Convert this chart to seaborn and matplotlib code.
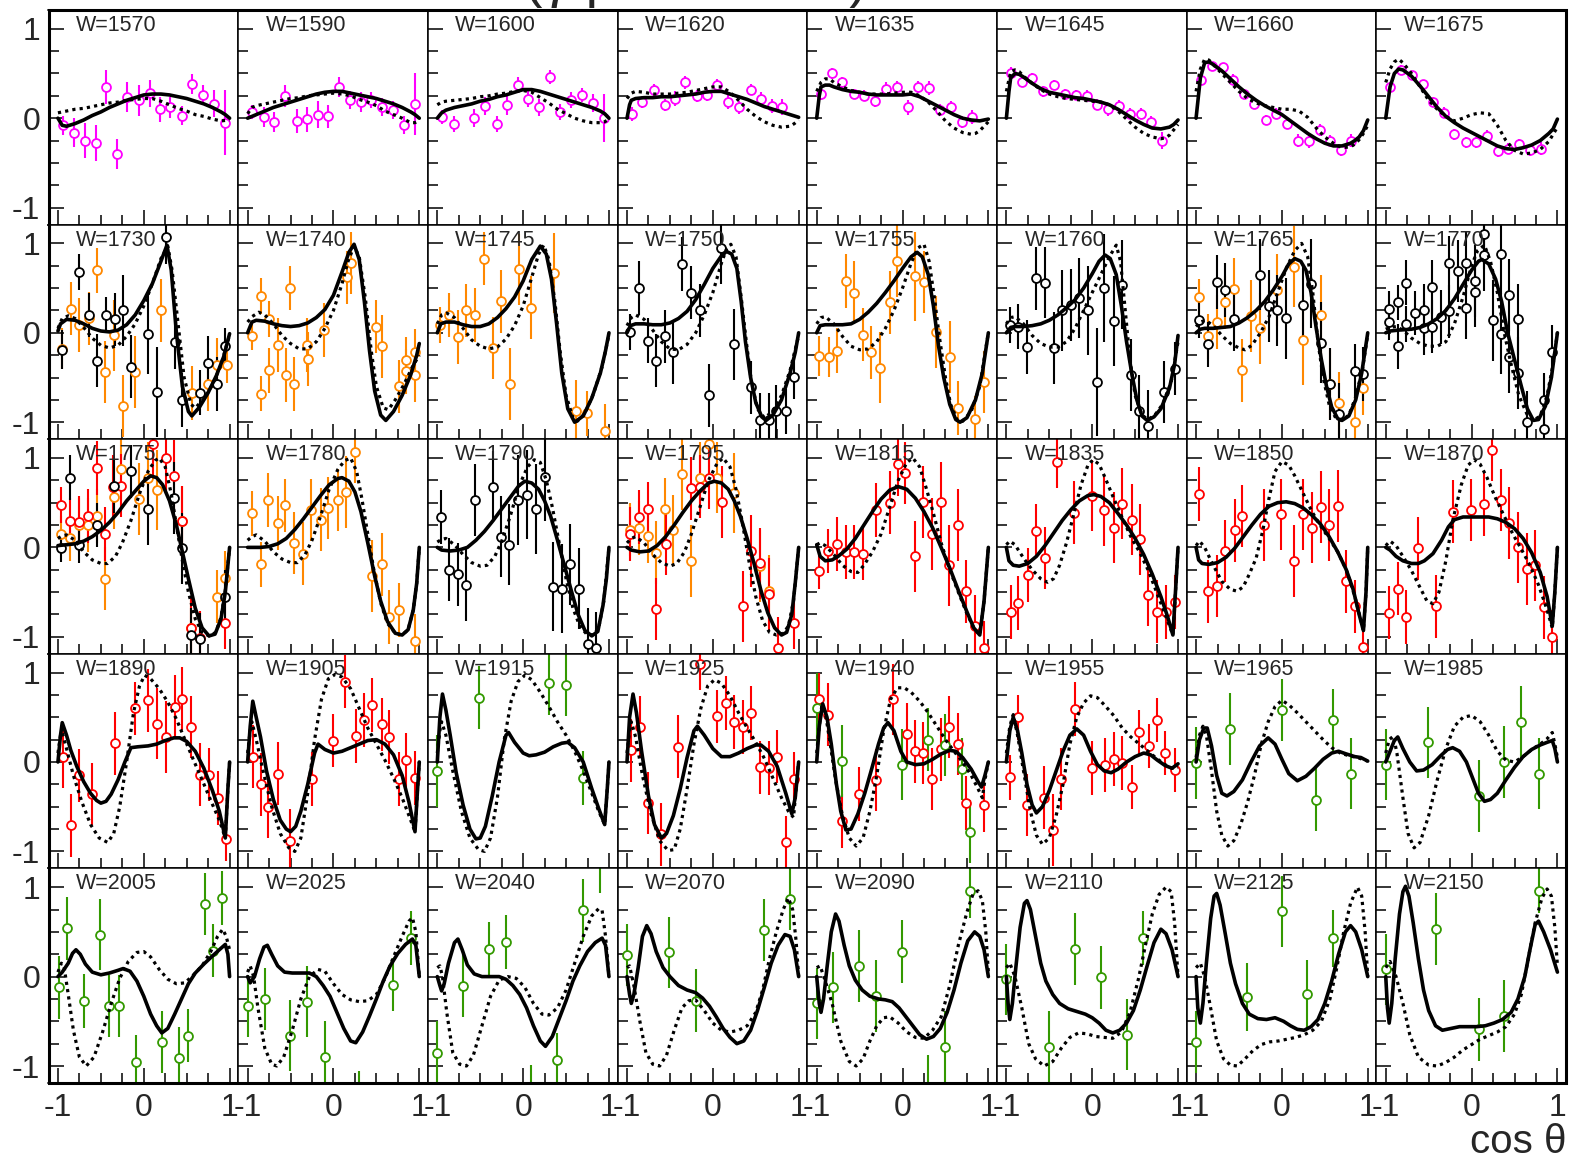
import pandas as pd
import seaborn as sns
import matplotlib.pyplot as plt
from matplotlib.patches import Rectangle
from matplotlib.ticker import FixedLocator, MultipleLocator

# --- panel labels (W), row by row ---
W_LABELS = [1570, 1590, 1600, 1620, 1635, 1645, 1660, 1675,
            1730, 1740, 1745, 1750, 1755, 1760, 1765, 1770,
            1775, 1780, 1790, 1795, 1815, 1835, 1850, 1870,
            1890, 1905, 1915, 1925, 1940, 1955, 1965, 1985,
            2005, 2025, 2040, 2070, 2090, 2110, 2125, 2150]

# data-set colours (keys used in POINTS)
COLORS = {"m": "#ff00ff", "o": "#ff8800", "k": "#000000", "r": "#ff0000", "g": "#339900"}
DRAW_ORDER = ["o", "r", "k", "g", "m"]

# --- model curves, (cos theta, value) ---
SOLID = [
    [(-1, 0.0), (-0.95, -0.08), (-0.9, -0.09), (-0.8, -0.06), (-0.7, -0.02), (-0.6, 0.03), (-0.5, 0.07), (-0.4, 0.12), (-0.3, 0.16), (-0.2, 0.2), (-0.1, 0.23), (0, 0.26), (0.1, 0.27), (0.2, 0.27), (0.3, 0.26), (0.4, 0.24), (0.5, 0.22), (0.6, 0.19), (0.7, 0.16), (0.8, 0.12), (0.9, 0.07), (0.95, 0.04), (1, 0.0)],
    [(-1, 0.0), (-0.9, 0.04), (-0.8, 0.08), (-0.7, 0.12), (-0.6, 0.15), (-0.5, 0.18), (-0.4, 0.21), (-0.3, 0.24), (-0.2, 0.27), (-0.1, 0.29), (0, 0.3), (0.1, 0.3), (0.2, 0.28), (0.3, 0.26), (0.4, 0.24), (0.5, 0.22), (0.6, 0.19), (0.7, 0.16), (0.8, 0.12), (0.9, 0.07), (0.95, 0.04), (1, 0.0)],
    [(-1, 0.0), (-0.95, 0.06), (-0.9, 0.09), (-0.8, 0.12), (-0.7, 0.14), (-0.6, 0.16), (-0.5, 0.19), (-0.4, 0.21), (-0.3, 0.24), (-0.2, 0.26), (-0.1, 0.29), (0, 0.32), (0.1, 0.32), (0.2, 0.3), (0.3, 0.27), (0.4, 0.24), (0.5, 0.21), (0.6, 0.18), (0.7, 0.15), (0.8, 0.12), (0.9, 0.08), (0.95, 0.05), (1, 0.0)],
    [(-1, 0.0), (-0.97, 0.15), (-0.95, 0.2), (-0.9, 0.22), (-0.8, 0.23), (-0.7, 0.23), (-0.6, 0.24), (-0.5, 0.24), (-0.4, 0.25), (-0.3, 0.26), (-0.2, 0.27), (-0.1, 0.29), (0, 0.3), (0.1, 0.3), (0.2, 0.27), (0.3, 0.24), (0.4, 0.21), (0.5, 0.17), (0.6, 0.13), (0.7, 0.1), (0.8, 0.07), (0.9, 0.04), (1, 0.01)],
    [(-1, 0.0), (-0.97, 0.25), (-0.95, 0.35), (-0.9, 0.37), (-0.85, 0.37), (-0.8, 0.35), (-0.7, 0.32), (-0.6, 0.3), (-0.5, 0.29), (-0.4, 0.27), (-0.3, 0.26), (-0.2, 0.26), (-0.1, 0.26), (0, 0.26), (0.1, 0.27), (0.2, 0.24), (0.3, 0.19), (0.4, 0.14), (0.5, 0.09), (0.6, 0.04), (0.7, 0.0), (0.8, -0.02), (0.9, -0.03), (1, -0.01)],
    [(-1, 0.0), (-0.97, 0.3), (-0.95, 0.45), (-0.9, 0.5), (-0.85, 0.49), (-0.8, 0.46), (-0.7, 0.39), (-0.6, 0.33), (-0.5, 0.29), (-0.4, 0.27), (-0.3, 0.25), (-0.2, 0.23), (-0.1, 0.22), (0, 0.2), (0.1, 0.18), (0.2, 0.15), (0.3, 0.1), (0.4, 0.04), (0.5, -0.02), (0.6, -0.07), (0.7, -0.11), (0.8, -0.12), (0.9, -0.1), (0.95, -0.07), (1, -0.02)],
    [(-1, 0.0), (-0.95, 0.45), (-0.9, 0.62), (-0.85, 0.63), (-0.8, 0.6), (-0.7, 0.53), (-0.6, 0.44), (-0.5, 0.35), (-0.4, 0.27), (-0.3, 0.2), (-0.2, 0.14), (-0.1, 0.09), (0, 0.04), (0.1, -0.03), (0.2, -0.1), (0.3, -0.17), (0.4, -0.23), (0.5, -0.28), (0.6, -0.31), (0.7, -0.31), (0.8, -0.28), (0.85, -0.25), (0.9, -0.21), (0.95, -0.14), (1, -0.02)],
    [(-1, 0.0), (-0.95, 0.35), (-0.9, 0.5), (-0.85, 0.55), (-0.8, 0.54), (-0.7, 0.47), (-0.6, 0.36), (-0.5, 0.24), (-0.4, 0.12), (-0.3, 0.02), (-0.2, -0.05), (-0.1, -0.11), (0, -0.16), (0.1, -0.21), (0.2, -0.26), (0.3, -0.31), (0.4, -0.34), (0.5, -0.35), (0.6, -0.33), (0.7, -0.3), (0.8, -0.25), (0.9, -0.17), (0.95, -0.12), (1, -0.01)],
    # row 2
    [(-1, 0.02), (-0.97, 0.1), (-0.9, 0.15), (-0.8, 0.14), (-0.7, 0.1), (-0.6, 0.05), (-0.5, 0.02), (-0.4, 0.01), (-0.3, 0.03), (-0.2, 0.09), (-0.1, 0.2), (0.0, 0.36), (0.1, 0.55), (0.2, 0.8), (0.27, 0.98), (0.32, 0.7), (0.38, 0.0), (0.45, -0.6), (0.52, -0.88), (0.56, -0.93), (0.65, -0.83), (0.75, -0.67), (0.85, -0.47), (0.93, -0.27), (1.0, -0.01)],
    [(-1, 0.0), (-0.95, 0.12), (-0.9, 0.14), (-0.8, 0.13), (-0.7, 0.1), (-0.6, 0.08), (-0.5, 0.07), (-0.4, 0.08), (-0.3, 0.11), (-0.2, 0.17), (-0.1, 0.26), (0.0, 0.42), (0.1, 0.68), (0.18, 0.9), (0.24, 0.99), (0.3, 0.82), (0.36, 0.35), (0.42, -0.2), (0.48, -0.65), (0.55, -0.92), (0.61, -0.98), (0.7, -0.88), (0.8, -0.7), (0.9, -0.47), (0.97, -0.25), (1.0, -0.12)],
    [(-1, 0.0), (-0.96, 0.1), (-0.9, 0.12), (-0.8, 0.12), (-0.7, 0.09), (-0.6, 0.07), (-0.5, 0.07), (-0.4, 0.1), (-0.3, 0.17), (-0.2, 0.27), (-0.1, 0.4), (0.0, 0.58), (0.1, 0.82), (0.2, 0.97), (0.27, 0.88), (0.33, 0.6), (0.39, 0.1), (0.45, -0.45), (0.52, -0.85), (0.6, -1.0), (0.7, -0.93), (0.8, -0.73), (0.9, -0.45), (0.96, -0.2), (1.0, 0.0)],
    [(-1, 0.0), (-0.96, 0.08), (-0.9, 0.1), (-0.8, 0.1), (-0.7, 0.09), (-0.6, 0.09), (-0.5, 0.11), (-0.4, 0.16), (-0.3, 0.24), (-0.2, 0.37), (-0.1, 0.54), (0.0, 0.72), (0.1, 0.86), (0.16, 0.91), (0.22, 0.88), (0.28, 0.72), (0.33, 0.35), (0.38, -0.1), (0.44, -0.5), (0.5, -0.78), (0.57, -0.94), (0.62, -0.98), (0.7, -0.92), (0.8, -0.75), (0.9, -0.45), (0.96, -0.22), (1.0, 0.0)],
    [(-1, 0.0), (-0.96, 0.08), (-0.9, 0.09), (-0.8, 0.09), (-0.7, 0.09), (-0.6, 0.1), (-0.5, 0.15), (-0.4, 0.23), (-0.3, 0.33), (-0.2, 0.45), (-0.1, 0.58), (0.0, 0.72), (0.1, 0.85), (0.17, 0.9), (0.23, 0.85), (0.3, 0.65), (0.36, 0.3), (0.42, -0.15), (0.48, -0.5), (0.55, -0.8), (0.62, -0.97), (0.67, -1.0), (0.75, -0.95), (0.85, -0.75), (0.93, -0.45), (1.0, 0.0)],
    [(-1, 0.0), (-0.95, 0.06), (-0.9, 0.07), (-0.8, 0.07), (-0.7, 0.08), (-0.6, 0.1), (-0.5, 0.14), (-0.4, 0.2), (-0.3, 0.28), (-0.2, 0.37), (-0.1, 0.5), (0.0, 0.66), (0.08, 0.8), (0.15, 0.87), (0.21, 0.83), (0.28, 0.65), (0.34, 0.3), (0.4, -0.1), (0.46, -0.45), (0.52, -0.75), (0.58, -0.93), (0.64, -0.98), (0.72, -0.94), (0.8, -0.85), (0.9, -0.62), (0.96, -0.35), (1.0, -0.03)],
    [(-1, 0.0), (-0.95, 0.04), (-0.9, 0.05), (-0.8, 0.05), (-0.7, 0.06), (-0.6, 0.07), (-0.5, 0.11), (-0.4, 0.17), (-0.3, 0.25), (-0.2, 0.35), (-0.1, 0.48), (0.0, 0.63), (0.08, 0.77), (0.15, 0.83), (0.22, 0.8), (0.28, 0.7), (0.34, 0.45), (0.4, 0.05), (0.46, -0.3), (0.52, -0.6), (0.58, -0.83), (0.65, -0.96), (0.7, -0.98), (0.78, -0.93), (0.86, -0.75), (0.93, -0.45), (1.0, 0.0)],
    [(-1, 0.0), (-0.95, 0.02), (-0.85, 0.03), (-0.7, 0.04), (-0.6, 0.06), (-0.5, 0.1), (-0.4, 0.16), (-0.3, 0.25), (-0.2, 0.38), (-0.1, 0.54), (0.0, 0.7), (0.08, 0.8), (0.12, 0.82), (0.2, 0.77), (0.28, 0.6), (0.35, 0.35), (0.42, 0.0), (0.5, -0.3), (0.58, -0.6), (0.65, -0.85), (0.72, -0.98), (0.78, -0.97), (0.86, -0.82), (0.93, -0.5), (1.0, 0.0)],
    # row 3
    [(-1, 0.02), (-0.9, 0.03), (-0.8, 0.04), (-0.7, 0.07), (-0.6, 0.12), (-0.5, 0.19), (-0.4, 0.28), (-0.3, 0.39), (-0.2, 0.52), (-0.1, 0.63), (0.0, 0.74), (0.08, 0.8), (0.15, 0.78), (0.22, 0.7), (0.3, 0.52), (0.38, 0.25), (0.45, -0.05), (0.52, -0.35), (0.6, -0.68), (0.68, -0.9), (0.76, -0.99), (0.83, -0.97), (0.9, -0.8), (0.95, -0.5), (1.0, 0.0)],
    [(-1, 0.0), (-0.85, 0.0), (-0.75, 0.01), (-0.65, 0.04), (-0.55, 0.1), (-0.45, 0.2), (-0.35, 0.32), (-0.25, 0.45), (-0.15, 0.58), (-0.05, 0.7), (0.05, 0.77), (0.1, 0.78), (0.18, 0.74), (0.25, 0.62), (0.32, 0.4), (0.4, 0.05), (0.48, -0.32), (0.55, -0.6), (0.63, -0.83), (0.72, -0.96), (0.8, -0.98), (0.87, -0.92), (0.93, -0.7), (0.97, -0.4), (1.0, 0.0)],
    [(-1, 0.0), (-0.95, -0.03), (-0.85, -0.04), (-0.75, -0.03), (-0.65, 0.0), (-0.55, 0.08), (-0.45, 0.18), (-0.35, 0.3), (-0.25, 0.43), (-0.15, 0.56), (-0.05, 0.69), (0.02, 0.74), (0.1, 0.72), (0.18, 0.65), (0.25, 0.52), (0.32, 0.35), (0.4, 0.08), (0.48, -0.2), (0.56, -0.48), (0.64, -0.75), (0.72, -0.93), (0.8, -0.99), (0.87, -0.94), (0.93, -0.65), (0.97, -0.35), (1.0, 0.0)],
    [(-1, 0.0), (-0.95, -0.03), (-0.85, -0.05), (-0.75, -0.04), (-0.65, 0.02), (-0.55, 0.12), (-0.45, 0.25), (-0.35, 0.39), (-0.25, 0.52), (-0.15, 0.63), (-0.05, 0.72), (0.02, 0.74), (0.1, 0.72), (0.18, 0.65), (0.25, 0.52), (0.32, 0.35), (0.4, 0.1), (0.48, -0.18), (0.56, -0.48), (0.64, -0.73), (0.72, -0.9), (0.8, -0.98), (0.86, -0.95), (0.92, -0.75), (0.96, -0.4), (1.0, 0.0)],
    [(-1, 0.03), (-0.96, -0.1), (-0.9, -0.15), (-0.82, -0.14), (-0.75, -0.1), (-0.65, -0.02), (-0.55, 0.1), (-0.45, 0.25), (-0.35, 0.4), (-0.25, 0.54), (-0.15, 0.64), (-0.05, 0.68), (0.05, 0.65), (0.15, 0.55), (0.25, 0.4), (0.35, 0.22), (0.45, 0.0), (0.55, -0.23), (0.65, -0.48), (0.75, -0.72), (0.83, -0.9), (0.9, -0.98), (0.95, -0.6), (1.0, 0.0)],
    [(-1, 0.0), (-0.97, -0.15), (-0.92, -0.2), (-0.85, -0.21), (-0.75, -0.18), (-0.65, -0.1), (-0.55, 0.02), (-0.45, 0.16), (-0.35, 0.3), (-0.25, 0.42), (-0.15, 0.52), (-0.05, 0.58), (0.02, 0.59), (0.1, 0.57), (0.2, 0.5), (0.3, 0.38), (0.4, 0.25), (0.5, 0.1), (0.6, -0.08), (0.7, -0.3), (0.8, -0.55), (0.88, -0.78), (0.94, -0.98), (0.97, -0.5), (1.0, 0.0)],
    [(-1, 0.0), (-0.97, -0.14), (-0.93, -0.18), (-0.85, -0.19), (-0.75, -0.17), (-0.65, -0.11), (-0.55, -0.01), (-0.45, 0.12), (-0.35, 0.25), (-0.25, 0.37), (-0.15, 0.46), (-0.05, 0.5), (0.05, 0.51), (0.15, 0.49), (0.25, 0.44), (0.35, 0.36), (0.45, 0.26), (0.55, 0.12), (0.65, -0.05), (0.75, -0.25), (0.83, -0.47), (0.9, -0.75), (0.95, -0.93), (0.98, -0.5), (1.0, 0.0)],
    [(-1, 0.0), (-0.95, -0.03), (-0.88, -0.1), (-0.8, -0.15), (-0.7, -0.18), (-0.62, -0.18), (-0.55, -0.15), (-0.45, -0.07), (-0.35, 0.08), (-0.27, 0.23), (-0.2, 0.31), (-0.1, 0.34), (0.0, 0.34), (0.1, 0.34), (0.2, 0.34), (0.3, 0.32), (0.4, 0.28), (0.5, 0.21), (0.6, 0.1), (0.7, -0.06), (0.8, -0.28), (0.88, -0.55), (0.94, -0.88), (0.97, -0.5), (1.0, 0.0)],
    # row 4
    [(-1, 0.0), (-0.97, 0.3), (-0.95, 0.44), (-0.9, 0.3), (-0.85, 0.13), (-0.78, -0.05), (-0.7, -0.22), (-0.62, -0.35), (-0.55, -0.43), (-0.5, -0.46), (-0.44, -0.44), (-0.38, -0.36), (-0.3, -0.2), (-0.22, 0.0), (-0.15, 0.16), (-0.07, 0.17), (0.05, 0.18), (0.15, 0.2), (0.25, 0.24), (0.35, 0.27), (0.42, 0.27), (0.5, 0.23), (0.6, 0.12), (0.7, -0.07), (0.8, -0.32), (0.88, -0.55), (0.95, -0.85), (0.98, -0.3), (1.0, 0.0)],
    [(-1, 0.0), (-0.97, 0.4), (-0.94, 0.68), (-0.9, 0.5), (-0.85, 0.28), (-0.78, -0.1), (-0.7, -0.42), (-0.62, -0.65), (-0.55, -0.75), (-0.5, -0.78), (-0.44, -0.72), (-0.38, -0.55), (-0.3, -0.25), (-0.22, 0.1), (-0.18, 0.2), (-0.1, 0.14), (0.0, 0.1), (0.1, 0.12), (0.2, 0.16), (0.3, 0.2), (0.4, 0.24), (0.5, 0.25), (0.6, 0.2), (0.7, 0.08), (0.8, -0.15), (0.88, -0.45), (0.95, -0.78), (0.98, -0.3), (1.0, 0.0)],
    [(-1, 0.0), (-0.97, 0.5), (-0.94, 0.76), (-0.9, 0.58), (-0.85, 0.3), (-0.78, -0.12), (-0.7, -0.48), (-0.62, -0.75), (-0.55, -0.86), (-0.5, -0.85), (-0.44, -0.72), (-0.36, -0.38), (-0.28, 0.0), (-0.2, 0.3), (-0.17, 0.33), (-0.1, 0.22), (0.0, 0.1), (0.07, 0.07), (0.15, 0.08), (0.25, 0.11), (0.35, 0.17), (0.45, 0.21), (0.52, 0.22), (0.6, 0.16), (0.7, 0.0), (0.8, -0.3), (0.88, -0.52), (0.95, -0.7), (0.98, -0.3), (1.0, 0.0)],
    [(-1, 0.0), (-0.97, 0.5), (-0.93, 0.76), (-0.89, 0.55), (-0.83, 0.12), (-0.75, -0.38), (-0.68, -0.7), (-0.6, -0.85), (-0.54, -0.8), (-0.46, -0.6), (-0.38, -0.3), (-0.3, 0.05), (-0.22, 0.35), (-0.18, 0.4), (-0.1, 0.3), (0.0, 0.15), (0.1, 0.06), (0.2, 0.06), (0.3, 0.1), (0.4, 0.15), (0.5, 0.19), (0.56, 0.19), (0.65, 0.12), (0.75, -0.05), (0.85, -0.35), (0.92, -0.58), (0.96, -0.4), (1.0, 0.0)],
    [(-1, 0.0), (-0.97, 0.4), (-0.93, 0.65), (-0.88, 0.5), (-0.83, 0.2), (-0.77, -0.25), (-0.72, -0.55), (-0.66, -0.76), (-0.6, -0.75), (-0.52, -0.58), (-0.44, -0.35), (-0.36, -0.08), (-0.28, 0.2), (-0.22, 0.38), (-0.17, 0.44), (-0.1, 0.35), (-0.02, 0.12), (0.05, 0.0), (0.15, -0.03), (0.25, -0.02), (0.35, 0.03), (0.45, 0.09), (0.55, 0.13), (0.62, 0.12), (0.7, 0.05), (0.8, -0.08), (0.88, -0.22), (0.92, -0.28), (0.96, -0.15), (1.0, 0.0)],
    [(-1, 0.0), (-0.96, 0.35), (-0.92, 0.5), (-0.87, 0.35), (-0.82, 0.1), (-0.76, -0.25), (-0.7, -0.48), (-0.65, -0.57), (-0.58, -0.5), (-0.5, -0.32), (-0.42, -0.1), (-0.34, 0.12), (-0.26, 0.3), (-0.18, 0.37), (-0.1, 0.3), (-0.02, 0.12), (0.06, -0.03), (0.14, -0.1), (0.22, -0.12), (0.3, -0.08), (0.4, 0.0), (0.5, 0.06), (0.6, 0.1), (0.68, 0.08), (0.76, 0.02), (0.85, -0.04), (0.93, -0.07), (1.0, -0.02)],
    [(-1, 0.0), (-0.96, 0.25), (-0.91, 0.38), (-0.87, 0.38), (-0.82, 0.18), (-0.76, -0.15), (-0.7, -0.35), (-0.64, -0.38), (-0.56, -0.33), (-0.46, -0.2), (-0.36, 0.0), (-0.26, 0.18), (-0.16, 0.27), (-0.08, 0.2), (0.0, 0.03), (0.08, -0.13), (0.18, -0.21), (0.28, -0.16), (0.38, -0.07), (0.48, 0.03), (0.58, 0.1), (0.66, 0.12), (0.75, 0.09), (0.85, 0.06), (0.92, 0.05), (1.0, 0.01)],
    [(-1, 0.0), (-0.95, 0.12), (-0.9, 0.24), (-0.86, 0.28), (-0.8, 0.15), (-0.72, 0.0), (-0.64, -0.1), (-0.56, -0.09), (-0.46, -0.03), (-0.36, 0.07), (-0.28, 0.14), (-0.22, 0.16), (-0.14, 0.12), (-0.06, 0.0), (0.02, -0.2), (0.08, -0.35), (0.15, -0.44), (0.22, -0.42), (0.3, -0.35), (0.4, -0.2), (0.5, -0.06), (0.6, 0.06), (0.7, 0.14), (0.8, 0.19), (0.88, 0.22), (0.94, 0.24), (0.97, 0.15), (1.0, 0.0)],
    # row 5
    [(-1, 0.0), (-0.95, 0.05), (-0.88, 0.15), (-0.83, 0.26), (-0.79, 0.3), (-0.74, 0.25), (-0.68, 0.14), (-0.6, 0.05), (-0.5, 0.02), (-0.4, 0.04), (-0.3, 0.07), (-0.24, 0.09), (-0.16, 0.06), (-0.08, -0.05), (0.0, -0.22), (0.08, -0.42), (0.15, -0.55), (0.21, -0.63), (0.28, -0.58), (0.36, -0.42), (0.44, -0.25), (0.52, -0.08), (0.6, 0.04), (0.7, 0.14), (0.8, 0.23), (0.88, 0.3), (0.95, 0.36), (0.98, 0.25), (1.0, 0.0)],
    [(-1, 0.0), (-0.97, -0.07), (-0.92, 0.0), (-0.86, 0.2), (-0.81, 0.33), (-0.77, 0.35), (-0.72, 0.25), (-0.65, 0.12), (-0.57, 0.05), (-0.48, 0.04), (-0.38, 0.04), (-0.28, 0.04), (-0.2, 0.0), (-0.12, -0.1), (-0.04, -0.22), (0.04, -0.4), (0.12, -0.58), (0.2, -0.72), (0.26, -0.74), (0.34, -0.62), (0.42, -0.44), (0.5, -0.25), (0.58, -0.05), (0.66, 0.12), (0.75, 0.26), (0.84, 0.36), (0.92, 0.42), (0.96, 0.35), (1.0, 0.0)],
    [(-1, 0.0), (-0.97, -0.1), (-0.95, -0.16), (-0.92, -0.08), (-0.87, 0.15), (-0.8, 0.38), (-0.76, 0.42), (-0.71, 0.3), (-0.65, 0.13), (-0.57, 0.03), (-0.48, 0.0), (-0.38, 0.0), (-0.28, 0.0), (-0.2, -0.03), (-0.12, -0.1), (-0.04, -0.2), (0.04, -0.35), (0.12, -0.55), (0.2, -0.72), (0.26, -0.78), (0.34, -0.67), (0.42, -0.47), (0.5, -0.27), (0.58, -0.05), (0.66, 0.12), (0.75, 0.28), (0.84, 0.38), (0.92, 0.43), (0.96, 0.35), (1.0, 0.0)],
    [(-1, 0.0), (-0.97, -0.2), (-0.95, -0.3), (-0.92, -0.2), (-0.87, 0.1), (-0.82, 0.45), (-0.77, 0.57), (-0.72, 0.48), (-0.66, 0.28), (-0.58, 0.1), (-0.5, 0.0), (-0.4, -0.1), (-0.3, -0.15), (-0.2, -0.18), (-0.12, -0.24), (-0.04, -0.33), (0.04, -0.45), (0.12, -0.58), (0.2, -0.68), (0.28, -0.75), (0.36, -0.72), (0.44, -0.6), (0.52, -0.38), (0.6, -0.12), (0.68, 0.15), (0.76, 0.35), (0.84, 0.47), (0.9, 0.45), (0.95, 0.3), (1.0, 0.0)],
    [(-1, 0.0), (-0.97, -0.3), (-0.95, -0.4), (-0.92, -0.25), (-0.88, 0.1), (-0.83, 0.5), (-0.78, 0.7), (-0.74, 0.62), (-0.68, 0.35), (-0.62, 0.12), (-0.55, -0.04), (-0.47, -0.15), (-0.38, -0.22), (-0.28, -0.25), (-0.2, -0.26), (-0.12, -0.28), (-0.04, -0.35), (0.04, -0.45), (0.12, -0.55), (0.2, -0.65), (0.28, -0.7), (0.36, -0.67), (0.44, -0.58), (0.52, -0.4), (0.6, -0.15), (0.68, 0.15), (0.76, 0.4), (0.84, 0.5), (0.9, 0.45), (0.95, 0.3), (1.0, 0.0)],
    [(-1, 0.0), (-0.98, -0.3), (-0.96, -0.48), (-0.93, -0.3), (-0.89, 0.1), (-0.84, 0.55), (-0.79, 0.82), (-0.76, 0.85), (-0.72, 0.75), (-0.66, 0.45), (-0.6, 0.15), (-0.54, -0.05), (-0.46, -0.2), (-0.38, -0.3), (-0.28, -0.36), (-0.18, -0.39), (-0.08, -0.42), (0.0, -0.46), (0.08, -0.52), (0.16, -0.6), (0.24, -0.63), (0.32, -0.6), (0.4, -0.52), (0.48, -0.38), (0.56, -0.15), (0.64, 0.12), (0.72, 0.38), (0.8, 0.53), (0.86, 0.48), (0.93, 0.3), (1.0, 0.0)],
    [(-1, 0.0), (-0.98, -0.35), (-0.95, -0.52), (-0.92, -0.3), (-0.88, 0.15), (-0.83, 0.65), (-0.79, 0.9), (-0.76, 0.93), (-0.72, 0.8), (-0.66, 0.48), (-0.6, 0.15), (-0.54, -0.08), (-0.46, -0.3), (-0.38, -0.42), (-0.28, -0.47), (-0.18, -0.48), (-0.08, -0.46), (0.02, -0.5), (0.1, -0.55), (0.18, -0.59), (0.26, -0.6), (0.34, -0.56), (0.42, -0.48), (0.5, -0.3), (0.58, -0.05), (0.66, 0.25), (0.74, 0.5), (0.8, 0.57), (0.86, 0.5), (0.93, 0.3), (1.0, 0.0)],
    [(-1, 0.0), (-0.98, -0.35), (-0.96, -0.52), (-0.93, -0.3), (-0.89, 0.2), (-0.84, 0.7), (-0.8, 0.95), (-0.77, 1.01), (-0.73, 0.9), (-0.68, 0.6), (-0.62, 0.2), (-0.56, -0.15), (-0.5, -0.38), (-0.42, -0.55), (-0.34, -0.6), (-0.24, -0.58), (-0.14, -0.56), (-0.04, -0.56), (0.06, -0.56), (0.16, -0.55), (0.26, -0.52), (0.36, -0.48), (0.46, -0.4), (0.54, -0.25), (0.62, 0.0), (0.68, 0.3), (0.74, 0.58), (0.78, 0.62), (0.84, 0.5), (0.92, 0.3), (1.0, 0.05)],
]

DOTTED = [
    [(-1, 0.06), (-0.9, 0.08), (-0.8, 0.1), (-0.7, 0.11), (-0.6, 0.13), (-0.5, 0.15), (-0.4, 0.17), (-0.3, 0.18), (-0.2, 0.2), (-0.1, 0.21), (0, 0.22), (0.1, 0.22), (0.2, 0.19), (0.3, 0.15), (0.4, 0.11), (0.5, 0.08), (0.6, 0.04), (0.7, 0.02), (0.8, -0.01), (0.9, -0.03), (1, -0.02)],
    [(-1, 0.05), (-0.95, 0.12), (-0.9, 0.14), (-0.8, 0.16), (-0.7, 0.18), (-0.6, 0.2), (-0.5, 0.22), (-0.4, 0.23), (-0.3, 0.25), (-0.2, 0.26), (-0.1, 0.27), (0, 0.28), (0.1, 0.27), (0.2, 0.25), (0.3, 0.21), (0.4, 0.18), (0.5, 0.14), (0.6, 0.08), (0.7, 0.04), (0.8, 0.0), (0.9, -0.05), (0.95, -0.05), (1, -0.03)],
    [(-1, 0.15), (-0.95, 0.18), (-0.9, 0.19), (-0.8, 0.2), (-0.7, 0.21), (-0.6, 0.22), (-0.5, 0.24), (-0.4, 0.25), (-0.3, 0.27), (-0.2, 0.28), (-0.1, 0.3), (0, 0.31), (0.1, 0.29), (0.2, 0.23), (0.3, 0.17), (0.4, 0.1), (0.5, 0.05), (0.6, 0.0), (0.7, -0.03), (0.8, -0.05), (0.9, -0.05), (0.95, -0.04), (1, -0.01)],
    [(-1, 0.22), (-0.95, 0.28), (-0.9, 0.3), (-0.8, 0.29), (-0.7, 0.27), (-0.6, 0.27), (-0.5, 0.27), (-0.4, 0.28), (-0.3, 0.29), (-0.2, 0.31), (-0.1, 0.33), (0, 0.35), (0.1, 0.35), (0.2, 0.29), (0.3, 0.2), (0.4, 0.1), (0.5, 0.02), (0.6, -0.04), (0.7, -0.08), (0.8, -0.1), (0.9, -0.09), (0.95, -0.06), (1, -0.02)],
    [(-1, 0.3), (-0.95, 0.4), (-0.9, 0.44), (-0.85, 0.44), (-0.8, 0.4), (-0.7, 0.35), (-0.6, 0.31), (-0.5, 0.29), (-0.4, 0.27), (-0.3, 0.27), (-0.2, 0.27), (-0.1, 0.28), (0, 0.29), (0.1, 0.29), (0.2, 0.25), (0.3, 0.18), (0.4, 0.08), (0.5, -0.03), (0.6, -0.11), (0.7, -0.16), (0.8, -0.18), (0.85, -0.17), (0.9, -0.14), (0.95, -0.09), (1, -0.04)],
    [(-1, 0.3), (-0.95, 0.52), (-0.9, 0.54), (-0.85, 0.52), (-0.8, 0.47), (-0.7, 0.39), (-0.6, 0.32), (-0.5, 0.27), (-0.4, 0.24), (-0.3, 0.22), (-0.2, 0.21), (-0.1, 0.2), (0, 0.19), (0.1, 0.18), (0.2, 0.15), (0.3, 0.08), (0.4, -0.01), (0.5, -0.1), (0.6, -0.17), (0.7, -0.21), (0.8, -0.23), (0.85, -0.22), (0.9, -0.19), (0.95, -0.13), (1, -0.07)],
    [(-1, 0.3), (-0.95, 0.55), (-0.9, 0.66), (-0.85, 0.65), (-0.8, 0.6), (-0.7, 0.5), (-0.6, 0.4), (-0.5, 0.3), (-0.4, 0.22), (-0.3, 0.17), (-0.2, 0.14), (-0.1, 0.12), (0, 0.1), (0.1, 0.1), (0.2, 0.08), (0.3, 0.01), (0.4, -0.11), (0.5, -0.21), (0.6, -0.28), (0.7, -0.33), (0.8, -0.32), (0.85, -0.29), (0.9, -0.24), (0.95, -0.17), (1, -0.08)],
    [(-1, 0.4), (-0.95, 0.55), (-0.9, 0.63), (-0.85, 0.66), (-0.8, 0.62), (-0.7, 0.5), (-0.6, 0.35), (-0.5, 0.2), (-0.4, 0.1), (-0.3, 0.02), (-0.2, -0.03), (-0.1, 0.0), (0, 0.04), (0.1, 0.06), (0.2, 0.05), (0.3, -0.08), (0.4, -0.25), (0.5, -0.36), (0.6, -0.4), (0.7, -0.39), (0.8, -0.35), (0.9, -0.26), (0.95, -0.18), (1, -0.1)],
    # row 2
    [(-1, 0.05), (-0.95, 0.16), (-0.88, 0.19), (-0.8, 0.16), (-0.7, 0.06), (-0.6, -0.06), (-0.5, -0.14), (-0.4, -0.17), (-0.3, -0.14), (-0.2, -0.04), (-0.1, 0.1), (0.0, 0.3), (0.1, 0.55), (0.2, 0.83), (0.28, 0.97), (0.33, 0.7), (0.4, 0.1), (0.47, -0.5), (0.55, -0.8), (0.6, -0.84), (0.7, -0.74), (0.8, -0.58), (0.9, -0.36), (1.0, -0.02)],
    [(-1, 0.12), (-0.95, 0.18), (-0.87, 0.23), (-0.8, 0.2), (-0.7, 0.1), (-0.6, -0.03), (-0.5, -0.12), (-0.4, -0.18), (-0.3, -0.18), (-0.2, -0.1), (-0.1, 0.05), (0.0, 0.25), (0.1, 0.55), (0.17, 0.8), (0.24, 0.97), (0.3, 0.85), (0.37, 0.4), (0.44, -0.2), (0.5, -0.6), (0.58, -0.84), (0.64, -0.86), (0.72, -0.75), (0.82, -0.58), (0.92, -0.38), (1.0, -0.25)],
    [(-1, 0.1), (-0.95, 0.2), (-0.89, 0.22), (-0.8, 0.17), (-0.7, 0.05), (-0.6, -0.08), (-0.5, -0.15), (-0.4, -0.18), (-0.3, -0.16), (-0.2, -0.07), (-0.1, 0.08), (0.0, 0.3), (0.1, 0.62), (0.18, 0.88), (0.24, 0.98), (0.3, 0.82), (0.37, 0.35), (0.43, -0.2), (0.5, -0.7), (0.58, -0.95), (0.63, -0.99), (0.72, -0.9), (0.82, -0.68), (0.92, -0.38), (1.0, -0.02)],
    [(-1, 0.08), (-0.95, 0.17), (-0.9, 0.2), (-0.8, 0.15), (-0.7, 0.03), (-0.6, -0.1), (-0.5, -0.18), (-0.4, -0.19), (-0.3, -0.13), (-0.2, 0.0), (-0.1, 0.2), (0.0, 0.45), (0.1, 0.78), (0.16, 0.94), (0.21, 0.99), (0.27, 0.85), (0.33, 0.4), (0.39, -0.1), (0.45, -0.55), (0.52, -0.85), (0.6, -0.95), (0.7, -0.88), (0.8, -0.7), (0.9, -0.42), (1.0, -0.03)],
    [(-1, 0.1), (-0.95, 0.17), (-0.9, 0.18), (-0.8, 0.1), (-0.7, -0.04), (-0.6, -0.15), (-0.5, -0.19), (-0.4, -0.18), (-0.3, -0.1), (-0.2, 0.05), (-0.1, 0.25), (0.0, 0.5), (0.1, 0.78), (0.18, 0.95), (0.25, 0.99), (0.31, 0.8), (0.37, 0.4), (0.43, -0.05), (0.5, -0.5), (0.56, -0.8), (0.64, -0.98), (0.7, -0.99), (0.8, -0.88), (0.9, -0.6), (1.0, 0.0)],
    [(-1, 0.1), (-0.95, 0.17), (-0.9, 0.18), (-0.8, 0.1), (-0.7, -0.03), (-0.6, -0.12), (-0.5, -0.16), (-0.4, -0.16), (-0.3, -0.1), (-0.2, 0.05), (-0.1, 0.25), (0.0, 0.45), (0.1, 0.65), (0.2, 0.85), (0.28, 0.98), (0.33, 0.8), (0.38, 0.3), (0.44, -0.3), (0.5, -0.7), (0.58, -0.92), (0.65, -0.97), (0.73, -0.92), (0.82, -0.8), (0.92, -0.55), (1.0, -0.1)],
    [(-1, 0.07), (-0.95, 0.12), (-0.89, 0.14), (-0.8, 0.08), (-0.7, -0.03), (-0.6, -0.12), (-0.5, -0.17), (-0.43, -0.19), (-0.35, -0.14), (-0.25, 0.0), (-0.15, 0.18), (-0.05, 0.45), (0.05, 0.72), (0.15, 0.92), (0.23, 1.0), (0.3, 0.85), (0.36, 0.45), (0.42, -0.1), (0.48, -0.5), (0.55, -0.8), (0.63, -0.96), (0.7, -0.98), (0.78, -0.92), (0.86, -0.72), (0.94, -0.4), (1.0, -0.02)],
    [(-1, 0.04), (-0.95, 0.06), (-0.88, 0.07), (-0.8, 0.03), (-0.7, -0.06), (-0.6, -0.12), (-0.5, -0.15), (-0.4, -0.15), (-0.3, -0.1), (-0.2, 0.1), (-0.1, 0.4), (0.0, 0.75), (0.07, 0.92), (0.15, 0.98), (0.22, 0.8), (0.3, 0.45), (0.38, 0.0), (0.46, -0.35), (0.55, -0.7), (0.65, -0.92), (0.72, -0.98), (0.8, -0.93), (0.88, -0.7), (0.95, -0.35), (1.0, 0.0)],
    # row 3
    [(-1, 0.1), (-0.95, 0.13), (-0.9, 0.14), (-0.8, 0.08), (-0.7, -0.05), (-0.6, -0.14), (-0.5, -0.18), (-0.42, -0.18), (-0.33, -0.1), (-0.25, 0.05), (-0.15, 0.3), (-0.05, 0.6), (0.05, 0.85), (0.13, 0.97), (0.18, 1.0), (0.25, 0.9), (0.32, 0.6), (0.38, 0.25), (0.45, -0.15), (0.52, -0.5), (0.6, -0.8), (0.68, -0.95), (0.76, -0.99), (0.84, -0.95), (0.9, -0.78), (0.95, -0.48), (1.0, 0.0)],
    [(-1, 0.08), (-0.95, 0.12), (-0.9, 0.14), (-0.8, 0.07), (-0.7, -0.05), (-0.6, -0.13), (-0.5, -0.17), (-0.42, -0.17), (-0.33, -0.08), (-0.25, 0.08), (-0.15, 0.35), (-0.05, 0.65), (0.05, 0.87), (0.13, 0.97), (0.2, 1.0), (0.27, 0.85), (0.33, 0.55), (0.4, 0.15), (0.47, -0.25), (0.55, -0.62), (0.63, -0.85), (0.72, -0.96), (0.8, -0.98), (0.87, -0.92), (0.93, -0.7), (0.97, -0.4), (1.0, 0.0)],
    [(-1, 0.06), (-0.95, 0.09), (-0.9, 0.1), (-0.8, 0.03), (-0.7, -0.08), (-0.6, -0.17), (-0.5, -0.21), (-0.42, -0.2), (-0.33, -0.1), (-0.25, 0.07), (-0.15, 0.35), (-0.05, 0.68), (0.05, 0.9), (0.13, 0.98), (0.2, 0.95), (0.27, 0.75), (0.34, 0.45), (0.42, 0.05), (0.5, -0.35), (0.58, -0.68), (0.66, -0.88), (0.74, -0.97), (0.82, -0.98), (0.88, -0.9), (0.94, -0.6), (1.0, 0.0)],
    [(-1, 0.05), (-0.95, 0.1), (-0.9, 0.12), (-0.8, 0.05), (-0.7, -0.08), (-0.6, -0.17), (-0.5, -0.21), (-0.42, -0.18), (-0.33, -0.05), (-0.25, 0.15), (-0.15, 0.45), (-0.05, 0.75), (0.05, 0.94), (0.12, 1.0), (0.2, 0.9), (0.27, 0.65), (0.34, 0.3), (0.42, -0.15), (0.5, -0.55), (0.58, -0.82), (0.66, -0.95), (0.74, -0.98), (0.82, -0.96), (0.88, -0.88), (0.94, -0.6), (1.0, 0.0)],
    [(-1, 0.03), (-0.96, 0.05), (-0.9, 0.02), (-0.8, -0.08), (-0.7, -0.2), (-0.6, -0.27), (-0.52, -0.28), (-0.45, -0.2), (-0.35, -0.05), (-0.25, 0.15), (-0.15, 0.45), (-0.05, 0.75), (0.05, 0.95), (0.12, 1.0), (0.2, 0.9), (0.28, 0.65), (0.36, 0.38), (0.45, 0.05), (0.55, -0.25), (0.65, -0.5), (0.75, -0.74), (0.83, -0.9), (0.9, -0.98), (0.95, -0.6), (1.0, 0.0)],
    [(-1, 0.03), (-0.96, 0.07), (-0.9, 0.03), (-0.8, -0.12), (-0.7, -0.25), (-0.6, -0.35), (-0.52, -0.39), (-0.45, -0.35), (-0.38, -0.2), (-0.3, 0.05), (-0.22, 0.35), (-0.13, 0.7), (-0.05, 0.92), (0.01, 0.98), (0.08, 0.93), (0.15, 0.78), (0.25, 0.55), (0.35, 0.33), (0.45, 0.12), (0.55, -0.05), (0.65, -0.25), (0.75, -0.5), (0.85, -0.75), (0.94, -0.98), (0.97, -0.5), (1.0, 0.0)],
    [(-1, 0.02), (-0.96, 0.07), (-0.9, 0.0), (-0.8, -0.2), (-0.7, -0.38), (-0.6, -0.47), (-0.52, -0.49), (-0.45, -0.44), (-0.38, -0.3), (-0.3, -0.12), (-0.22, 0.2), (-0.15, 0.55), (-0.08, 0.85), (0.0, 0.96), (0.08, 0.92), (0.15, 0.8), (0.25, 0.6), (0.35, 0.4), (0.45, 0.24), (0.55, 0.1), (0.65, -0.05), (0.75, -0.25), (0.85, -0.55), (0.95, -0.93), (0.98, -0.5), (1.0, 0.0)],
    [(-1, 0.02), (-0.95, 0.07), (-0.88, 0.02), (-0.8, -0.1), (-0.7, -0.26), (-0.6, -0.45), (-0.52, -0.6), (-0.45, -0.63), (-0.38, -0.5), (-0.3, -0.15), (-0.22, 0.3), (-0.12, 0.7), (-0.04, 0.92), (0.03, 0.98), (0.1, 0.93), (0.18, 0.78), (0.28, 0.55), (0.38, 0.35), (0.48, 0.15), (0.58, -0.02), (0.68, -0.2), (0.78, -0.42), (0.88, -0.7), (0.94, -0.9), (0.97, -0.5), (1.0, 0.0)],
    # row 4
    [(-1, 0.1), (-0.97, 0.3), (-0.95, 0.33), (-0.9, 0.15), (-0.82, -0.15), (-0.72, -0.45), (-0.62, -0.7), (-0.52, -0.85), (-0.42, -0.9), (-0.35, -0.8), (-0.28, -0.5), (-0.2, 0.0), (-0.12, 0.55), (-0.05, 0.85), (0.01, 0.97), (0.08, 0.93), (0.18, 0.82), (0.28, 0.67), (0.38, 0.48), (0.48, 0.25), (0.58, 0.02), (0.68, -0.2), (0.78, -0.43), (0.88, -0.65), (0.95, -0.85), (0.98, -0.3), (1.0, 0.0)],
    [(-1, 0.1), (-0.97, 0.35), (-0.95, 0.45), (-0.9, 0.25), (-0.82, -0.1), (-0.72, -0.5), (-0.62, -0.8), (-0.52, -0.96), (-0.45, -1.0), (-0.38, -0.85), (-0.3, -0.35), (-0.22, 0.25), (-0.14, 0.7), (-0.06, 0.93), (0.02, 0.98), (0.1, 0.95), (0.2, 0.82), (0.3, 0.6), (0.4, 0.38), (0.5, 0.2), (0.6, 0.02), (0.7, -0.18), (0.8, -0.4), (0.88, -0.6), (0.95, -0.78), (0.98, -0.3), (1.0, 0.0)],
    [(-1, 0.1), (-0.97, 0.35), (-0.95, 0.45), (-0.9, 0.3), (-0.82, -0.1), (-0.72, -0.55), (-0.62, -0.85), (-0.52, -0.98), (-0.45, -1.0), (-0.38, -0.85), (-0.3, -0.4), (-0.22, 0.25), (-0.14, 0.68), (-0.06, 0.9), (0.02, 0.97), (0.1, 0.92), (0.2, 0.78), (0.3, 0.62), (0.4, 0.45), (0.5, 0.3), (0.6, 0.12), (0.7, -0.1), (0.8, -0.35), (0.88, -0.55), (0.95, -0.7), (0.98, -0.3), (1.0, 0.0)],
    [(-1, 0.1), (-0.97, 0.35), (-0.95, 0.45), (-0.9, 0.28), (-0.82, -0.15), (-0.72, -0.58), (-0.62, -0.88), (-0.52, -0.99), (-0.45, -0.98), (-0.38, -0.75), (-0.3, -0.3), (-0.22, 0.2), (-0.14, 0.6), (-0.06, 0.85), (0.02, 0.92), (0.1, 0.88), (0.2, 0.74), (0.3, 0.55), (0.4, 0.38), (0.5, 0.22), (0.6, 0.04), (0.7, -0.18), (0.8, -0.4), (0.88, -0.55), (0.94, -0.62), (0.97, -0.3), (1.0, 0.0)],
    [(-1, 0.1), (-0.97, 0.4), (-0.94, 0.63), (-0.9, 0.55), (-0.85, 0.25), (-0.78, -0.2), (-0.7, -0.6), (-0.62, -0.85), (-0.54, -0.94), (-0.46, -0.85), (-0.38, -0.55), (-0.3, -0.15), (-0.22, 0.35), (-0.14, 0.7), (-0.06, 0.83), (0.02, 0.83), (0.1, 0.78), (0.2, 0.68), (0.3, 0.55), (0.4, 0.4), (0.5, 0.25), (0.6, 0.12), (0.7, 0.0), (0.8, -0.15), (0.88, -0.3), (0.93, -0.4), (0.96, -0.2), (1.0, 0.0)],
    [(-1, 0.1), (-0.96, 0.4), (-0.92, 0.53), (-0.87, 0.3), (-0.8, -0.1), (-0.72, -0.55), (-0.65, -0.82), (-0.58, -0.92), (-0.5, -0.85), (-0.42, -0.6), (-0.34, -0.25), (-0.26, 0.2), (-0.18, 0.5), (-0.1, 0.66), (-0.02, 0.74), (0.06, 0.72), (0.15, 0.63), (0.25, 0.52), (0.35, 0.38), (0.45, 0.28), (0.55, 0.2), (0.65, 0.12), (0.75, 0.04), (0.85, -0.03), (0.93, -0.07), (1.0, -0.06)],
    [(-1, 0.05), (-0.96, 0.3), (-0.92, 0.4), (-0.88, 0.3), (-0.82, -0.1), (-0.76, -0.55), (-0.7, -0.82), (-0.63, -0.94), (-0.56, -0.88), (-0.48, -0.7), (-0.4, -0.45), (-0.32, -0.15), (-0.24, 0.2), (-0.16, 0.45), (-0.08, 0.62), (0.0, 0.69), (0.08, 0.64), (0.18, 0.55), (0.28, 0.45), (0.38, 0.35), (0.48, 0.25), (0.58, 0.16), (0.68, 0.1), (0.78, 0.07), (0.88, 0.05), (1.0, 0.01)],
    [(-1, 0.1), (-0.96, 0.25), (-0.91, 0.29), (-0.87, 0.1), (-0.8, -0.4), (-0.74, -0.8), (-0.67, -0.96), (-0.6, -0.9), (-0.5, -0.6), (-0.4, -0.2), (-0.3, 0.15), (-0.2, 0.4), (-0.1, 0.5), (0.0, 0.52), (0.1, 0.45), (0.2, 0.3), (0.3, 0.12), (0.4, 0.02), (0.5, 0.0), (0.6, 0.06), (0.7, 0.14), (0.8, 0.2), (0.88, 0.26), (0.94, 0.33), (0.97, 0.2), (1.0, 0.05)],
    # row 5
    [(-1, 0.05), (-0.96, 0.15), (-0.93, 0.12), (-0.88, -0.2), (-0.82, -0.6), (-0.75, -0.9), (-0.67, -1.0), (-0.58, -0.9), (-0.48, -0.62), (-0.38, -0.3), (-0.28, -0.02), (-0.18, 0.17), (-0.08, 0.27), (0.0, 0.28), (0.08, 0.22), (0.18, 0.08), (0.28, -0.03), (0.38, -0.08), (0.48, -0.07), (0.58, 0.02), (0.68, 0.12), (0.78, 0.28), (0.86, 0.45), (0.92, 0.53), (0.96, 0.45), (1.0, 0.3)],
    [(-1, 0.05), (-0.97, 0.12), (-0.93, 0.0), (-0.88, -0.35), (-0.8, -0.8), (-0.72, -0.98), (-0.66, -1.0), (-0.58, -0.9), (-0.48, -0.6), (-0.38, -0.25), (-0.28, 0.0), (-0.18, 0.08), (-0.1, 0.06), (0.0, -0.08), (0.1, -0.2), (0.2, -0.26), (0.3, -0.28), (0.4, -0.27), (0.5, -0.2), (0.6, -0.02), (0.7, 0.22), (0.8, 0.45), (0.88, 0.62), (0.92, 0.66), (0.96, 0.5), (1.0, 0.0)],
    [(-1, 0.1), (-0.97, 0.12), (-0.94, 0.0), (-0.89, -0.4), (-0.82, -0.85), (-0.74, -0.98), (-0.66, -1.0), (-0.58, -0.88), (-0.48, -0.55), (-0.38, -0.22), (-0.28, -0.04), (-0.18, 0.0), (-0.08, -0.02), (0.02, -0.12), (0.12, -0.3), (0.22, -0.42), (0.3, -0.43), (0.4, -0.35), (0.5, -0.15), (0.6, 0.15), (0.7, 0.45), (0.8, 0.68), (0.88, 0.76), (0.92, 0.74), (0.96, 0.45), (1.0, 0.0)],
    [(-1, 0.1), (-0.97, 0.12), (-0.92, -0.1), (-0.85, -0.5), (-0.78, -0.85), (-0.7, -0.98), (-0.62, -1.0), (-0.54, -0.88), (-0.45, -0.6), (-0.36, -0.35), (-0.28, -0.27), (-0.2, -0.26), (-0.1, -0.38), (0.0, -0.52), (0.1, -0.6), (0.2, -0.62), (0.3, -0.6), (0.4, -0.55), (0.5, -0.4), (0.58, -0.15), (0.66, 0.2), (0.74, 0.5), (0.82, 0.75), (0.88, 0.88), (0.93, 0.75), (0.97, 0.4), (1.0, 0.0)],
    [(-1, 0.1), (-0.96, 0.12), (-0.9, -0.05), (-0.82, -0.3), (-0.72, -0.72), (-0.62, -0.95), (-0.54, -1.0), (-0.46, -0.92), (-0.38, -0.72), (-0.3, -0.55), (-0.22, -0.46), (-0.15, -0.45), (-0.05, -0.52), (0.05, -0.62), (0.15, -0.68), (0.25, -0.69), (0.35, -0.6), (0.45, -0.45), (0.55, -0.1), (0.65, 0.35), (0.75, 0.72), (0.82, 0.92), (0.88, 0.96), (0.93, 0.85), (0.97, 0.5), (1.0, 0.05)],
    [(-1, 0.1), (-0.96, 0.15), (-0.9, 0.0), (-0.82, -0.35), (-0.74, -0.75), (-0.66, -0.92), (-0.56, -1.0), (-0.46, -0.95), (-0.36, -0.8), (-0.26, -0.68), (-0.16, -0.63), (-0.06, -0.64), (0.04, -0.67), (0.14, -0.68), (0.24, -0.69), (0.34, -0.62), (0.44, -0.4), (0.54, -0.02), (0.62, 0.35), (0.7, 0.7), (0.78, 0.92), (0.86, 1.0), (0.92, 0.95), (0.96, 0.6), (1.0, 0.0)],
    [(-1, 0.1), (-0.95, 0.15), (-0.9, 0.0), (-0.84, -0.3), (-0.76, -0.72), (-0.68, -0.92), (-0.6, -0.99), (-0.52, -1.0), (-0.44, -0.93), (-0.34, -0.83), (-0.24, -0.76), (-0.14, -0.73), (-0.04, -0.72), (0.06, -0.7), (0.16, -0.68), (0.26, -0.65), (0.36, -0.6), (0.46, -0.5), (0.56, -0.25), (0.64, 0.1), (0.72, 0.5), (0.8, 0.82), (0.88, 1.0), (0.93, 0.9), (0.97, 0.5), (1.0, 0.0)],
    [(-1, 0.1), (-0.95, 0.17), (-0.88, 0.0), (-0.8, -0.3), (-0.72, -0.65), (-0.62, -0.9), (-0.5, -0.99), (-0.4, -1.0), (-0.3, -0.96), (-0.2, -0.9), (-0.1, -0.82), (0.0, -0.76), (0.1, -0.7), (0.2, -0.66), (0.3, -0.62), (0.4, -0.56), (0.5, -0.42), (0.58, -0.2), (0.66, 0.2), (0.74, 0.6), (0.82, 0.88), (0.88, 0.98), (0.93, 0.9), (0.97, 0.55), (1.0, 0.12)],
]

# --- measured points: data set -> (cos theta, value, error) ---
POINTS = [
    {"m": [(-0.94, -0.08, 0.11), (-0.81, -0.16, 0.16), (-0.69, -0.25, 0.2), (-0.56, -0.28, 0.2), (-0.44, 0.35, 0.19), (-0.31, -0.4, 0.17), (-0.19, 0.24, 0.17), (-0.06, 0.2, 0.17), (0.07, 0.28, 0.15), (0.19, 0.1, 0.14), (0.31, 0.12, 0.12), (0.44, 0.03, 0.11), (0.56, 0.38, 0.11), (0.69, 0.26, 0.11), (0.82, 0.16, 0.15), (0.95, -0.05, 0.36)]},
    {"m": [(-0.95, 0.07, 0.08), (-0.81, 0.01, 0.11), (-0.69, -0.04, 0.11), (-0.56, 0.25, 0.12), (-0.43, -0.03, 0.13), (-0.31, -0.01, 0.14), (-0.18, 0.04, 0.15), (-0.06, 0.02, 0.13), (0.07, 0.35, 0.11), (0.19, 0.2, 0.1), (0.32, 0.18, 0.11), (0.44, 0.2, 0.09), (0.57, 0.13, 0.1), (0.69, 0.09, 0.1), (0.82, -0.08, 0.1), (0.95, 0.16, 0.35)]},
    {"m": [(-0.95, 0.01, 0.08), (-0.81, -0.06, 0.09), (-0.57, 0.0, 0.1), (-0.44, 0.14, 0.1), (-0.31, -0.06, 0.09), (-0.19, 0.15, 0.11), (-0.06, 0.37, 0.09), (0.06, 0.22, 0.1), (0.18, 0.12, 0.1), (0.31, 0.46, 0.08), (0.43, 0.07, 0.09), (0.56, 0.2, 0.09), (0.68, 0.26, 0.08), (0.81, 0.17, 0.1), (0.94, 0.0, 0.27)]},
    {"m": [(-0.94, 0.05, 0.08), (-0.82, 0.18, 0.07), (-0.69, 0.31, 0.07), (-0.56, 0.15, 0.07), (-0.44, 0.22, 0.08), (-0.32, 0.4, 0.07), (-0.19, 0.25, 0.07), (-0.07, 0.26, 0.07), (0.05, 0.37, 0.07), (0.18, 0.18, 0.08), (0.31, 0.12, 0.07), (0.44, 0.32, 0.06), (0.56, 0.22, 0.07), (0.69, 0.14, 0.08), (0.81, 0.13, 0.09)]},
    {"m": [(-0.95, 0.27, 0.07), (-0.82, 0.5, 0.06), (-0.7, 0.4, 0.06), (-0.57, 0.27, 0.06), (-0.45, 0.25, 0.06), (-0.32, 0.19, 0.06), (-0.19, 0.33, 0.07), (-0.07, 0.35, 0.07), (0.06, 0.12, 0.08), (0.18, 0.35, 0.07), (0.31, 0.34, 0.08), (0.44, 0.09, 0.07), (0.56, 0.12, 0.07), (0.69, -0.04, 0.07), (0.81, 0.01, 0.08)]},
    {"m": [(-0.95, 0.51, 0.06), (-0.82, 0.41, 0.06), (-0.7, 0.45, 0.06), (-0.57, 0.3, 0.06), (-0.45, 0.37, 0.06), (-0.32, 0.27, 0.06), (-0.19, 0.26, 0.06), (-0.06, 0.25, 0.06), (0.06, 0.15, 0.06), (0.18, 0.1, 0.07), (0.31, 0.14, 0.06), (0.44, 0.05, 0.06), (0.57, 0.05, 0.06), (0.69, -0.04, 0.06), (0.81, -0.25, 0.1)]},
    {"m": [(-0.94, 0.43, 0.06), (-0.82, 0.58, 0.05), (-0.69, 0.57, 0.05), (-0.57, 0.43, 0.06), (-0.44, 0.27, 0.06), (-0.32, 0.16, 0.06), (-0.19, -0.02, 0.06), (-0.07, 0.05, 0.06), (0.06, -0.06, 0.06), (0.19, -0.25, 0.07), (0.31, -0.26, 0.07), (0.44, -0.13, 0.07), (0.56, -0.25, 0.06), (0.69, -0.36, 0.06), (0.81, -0.25, 0.07)]},
    {"m": [(-0.95, 0.35, 0.06), (-0.82, 0.54, 0.05), (-0.7, 0.48, 0.05), (-0.57, 0.38, 0.05), (-0.45, 0.18, 0.06), (-0.32, 0.06, 0.06), (-0.2, -0.18, 0.06), (-0.07, -0.27, 0.06), (0.05, -0.27, 0.06), (0.18, -0.2, 0.07), (0.31, -0.37, 0.06), (0.43, -0.34, 0.06), (0.55, -0.29, 0.06), (0.68, -0.36, 0.06), (0.81, -0.34, 0.07)]},
    # row 2
    {"o": [(-0.95, -0.18, 0.23), (-0.85, 0.27, 0.3), (-0.76, 0.09, 0.3), (-0.64, 0.16, 0.3), (-0.55, 0.7, 0.25), (-0.45, -0.44, 0.35), (-0.35, -0.03, 0.4), (-0.24, -0.82, 0.35), (-0.1, -0.44, 0.4), (0.2, 0.25, 0.35), (0.56, -0.67, 0.3), (0.75, -0.57, 0.3), (0.85, -0.36, 0.3), (0.97, -0.36, 0.2)],
     "k": [(-0.95, -0.19, 0.22), (-0.76, 0.68, 0.2), (-0.64, 0.2, 0.25), (-0.55, -0.31, 0.3), (-0.44, 0.2, 0.2), (-0.34, 0.15, 0.3), (-0.24, 0.25, 0.4), (-0.15, -0.38, 0.35), (0.05, -0.01, 0.45), (0.15, -0.66, 0.5), (0.26, 1.07, 0.3), (0.36, -0.1, 0.3), (0.45, -0.75, 0.3), (0.65, -0.67, 0.25), (0.75, -0.34, 0.3), (0.85, -0.57, 0.3), (0.95, -0.15, 0.2)]},
    {"o": [(-0.95, -0.04, 0.15), (-0.85, 0.41, 0.2), (-0.85, -0.68, 0.2), (-0.75, -0.42, 0.25), (-0.75, 0.15, 0.2), (-0.65, -0.14, 0.3), (-0.55, -0.47, 0.3), (-0.51, 0.5, 0.25), (-0.46, -0.57, 0.3), (-0.31, -0.14, 0.3), (-0.3, -0.29, 0.3), (-0.11, 0.03, 0.3), (0.16, 0.62, 0.3), (0.2, 0.78, 0.35), (0.5, 0.07, 0.3), (0.56, -0.15, 0.35), (0.76, -0.6, 0.3), (0.85, -0.3, 0.25), (0.85, -0.43, 0.25), (0.95, -0.47, 0.3), (0.95, -0.21, 0.25)]},
    {"o": [(-0.97, 0.09, 0.2), (-0.86, 0.2, 0.25), (-0.76, -0.05, 0.3), (-0.66, 0.25, 0.3), (-0.56, 0.2, 0.3), (-0.46, 0.83, 0.3), (-0.35, -0.17, 0.35), (-0.26, 0.35, 0.35), (-0.15, -0.57, 0.4), (-0.05, 0.71, 0.4), (0.09, 0.28, 0.35), (0.36, 0.67, 0.45), (0.61, -0.88, 0.35), (0.74, -0.9, 0.25), (0.95, -1.1, 0.3)]},
    {"k": [(-0.96, 0.01, 0.2), (-0.86, 0.5, 0.3), (-0.76, -0.09, 0.25), (-0.66, -0.31, 0.3), (-0.56, -0.04, 0.3), (-0.46, -0.22, 0.35), (-0.36, 0.77, 0.3), (-0.26, 0.45, 0.3), (-0.15, 0.25, 0.3), (-0.05, -0.7, 0.35), (0.1, 0.95, 0.4), (0.25, -0.13, 0.4), (0.45, -0.61, 0.3), (0.55, -0.97, 0.3), (0.65, -0.97, 0.3), (0.74, -0.88, 0.3), (0.85, -0.88, 0.25), (0.95, -0.49, 0.25)]},
    {"o": [(-0.97, -0.26, 0.22), (-0.86, -0.27, 0.22), (-0.76, -0.2, 0.25), (-0.66, 0.58, 0.3), (-0.56, 0.45, 0.35), (-0.46, -0.02, 0.3), (-0.37, -0.22, 0.3), (-0.26, -0.39, 0.4), (-0.15, 0.34, 0.35), (-0.07, 0.8, 0.4), (0.14, 0.63, 0.5), (0.25, 0.57, 0.35), (0.39, 0.01, 0.4), (0.55, -0.27, 0.4), (0.65, -0.84, 0.3), (0.85, -0.96, 0.25), (0.95, -0.55, 0.35)]},
    {"k": [(-0.96, 0.09, 0.2), (-0.86, 0.07, 0.25), (-0.76, -0.16, 0.3), (-0.66, 0.61, 0.35), (-0.55, 0.56, 0.4), (-0.45, -0.17, 0.4), (-0.35, 0.25, 0.45), (-0.25, 0.31, 0.4), (-0.15, 0.39, 0.45), (-0.05, 0.25, 0.5), (0.05, -0.55, 0.6), (0.14, 0.5, 0.6), (0.25, 0.13, 0.5), (0.35, 0.54, 0.5), (0.45, -0.47, 0.4), (0.55, -0.87, 0.4), (0.65, -1.04, 0.4), (0.84, -0.66, 0.35), (0.96, -0.4, 0.3)]},
    {"o": [(-0.96, 0.4, 0.2), (-0.86, -0.04, 0.25), (-0.76, 0.12, 0.3), (-0.66, 0.34, 0.3), (-0.56, 0.49, 0.35), (-0.46, -0.42, 0.35), (-0.36, 0.19, 0.4), (-0.26, 0.05, 0.4), (-0.06, 0.48, 0.4), (0.14, 0.74, 0.45), (0.25, -0.08, 0.5), (0.46, 0.2, 0.45), (0.56, -0.57, 0.4), (0.66, -0.79, 0.35), (0.85, -1.0, 0.3), (0.95, -0.62, 0.3)],
     "k": [(-0.96, 0.14, 0.2), (-0.86, -0.13, 0.25), (-0.76, 0.57, 0.3), (-0.66, 0.48, 0.3), (-0.56, 0.15, 0.35), (-0.26, 0.65, 0.4), (-0.15, 0.3, 0.4), (-0.06, 0.25, 0.4), (0.05, 0.16, 0.45), (0.25, 0.31, 0.45), (0.34, 0.55, 0.5), (0.46, -0.11, 0.45), (0.56, -0.57, 0.4), (0.66, -0.91, 0.35), (0.85, -0.43, 0.3), (0.95, -0.46, 0.3)]},
    {"k": [(-0.96, 0.27, 0.2), (-0.96, 0.12, 0.2), (-0.86, 0.34, 0.2), (-0.86, -0.15, 0.25), (-0.76, 0.56, 0.25), (-0.76, 0.1, 0.2), (-0.66, 0.22, 0.25), (-0.56, 0.25, 0.3), (-0.56, 0.05, 0.3), (-0.46, 0.51, 0.3), (-0.46, 0.07, 0.3), (-0.36, 0.18, 0.3), (-0.26, 0.24, 0.3), (-0.26, 0.78, 0.3), (-0.16, 0.69, 0.35), (-0.06, 0.78, 0.35), (-0.06, 0.28, 0.35), (0.04, 0.58, 0.4), (0.04, 0.46, 0.4), (0.14, 1.11, 0.4), (0.14, 0.87, 0.4), (0.25, 0.14, 0.45), (0.34, 0.88, 0.45), (0.34, -0.01, 0.45), (0.44, 0.42, 0.4), (0.44, -0.27, 0.4), (0.54, 0.15, 0.4), (0.54, -0.45, 0.4), (0.64, -1.0, 0.35), (0.84, -0.75, 0.3), (0.84, -1.08, 0.3), (0.94, -0.21, 0.3)]},
    # row 3
    {"o": [(-0.96, 0.15, 0.2), (-0.86, 0.1, 0.25), (-0.76, 0.25, 0.3), (-0.65, 0.25, 0.3), (-0.55, 0.35, 0.3), (-0.45, -0.35, 0.35), (-0.35, 0.56, 0.35), (-0.26, 0.88, 0.35), (-0.05, 0.54, 0.4), (0.05, 0.78, 0.4), (0.15, 0.64, 0.45), (0.45, 0.29, 0.4), (0.55, -0.9, 0.35), (0.85, -0.55, 0.3), (0.95, -0.34, 0.3)],
     "r": [(-0.96, 0.47, 0.2), (-0.86, 0.3, 0.25), (-0.76, 0.28, 0.3), (-0.65, 0.35, 0.3), (-0.55, 0.89, 0.3), (-0.45, 0.15, 0.3), (-0.36, 0.68, 0.35), (-0.26, 0.69, 0.35), (0.11, 1.16, 0.4), (0.26, 1.0, 0.4), (0.35, 0.8, 0.4), (0.45, 0.29, 0.4), (0.55, -0.9, 0.35), (0.65, -1.01, 0.3), (0.95, -0.84, 0.3)],
     "k": [(-0.96, -0.01, 0.15), (-0.86, 0.78, 0.25), (-0.76, 0.03, 0.2), (-0.55, 0.25, 0.25), (-0.35, 0.69, 0.3), (-0.15, 0.85, 0.3), (0.05, 0.43, 0.4), (0.35, 0.55, 0.4), (0.45, -0.01, 0.4), (0.55, -0.98, 0.3), (0.65, -1.03, 0.3), (0.95, -0.55, 0.3)]},
    {"o": [(-0.95, 0.38, 0.25), (-0.85, -0.19, 0.25), (-0.76, 0.53, 0.3), (-0.65, 0.27, 0.3), (-0.56, 0.47, 0.3), (-0.46, 0.05, 0.35), (-0.35, -0.07, 0.35), (-0.26, 0.42, 0.35), (-0.15, 0.31, 0.35), (-0.06, 0.44, 0.35), (0.05, 0.53, 0.35), (0.15, 0.62, 0.4), (0.25, 1.07, 0.35), (0.45, -0.32, 0.4), (0.56, -0.19, 0.35), (0.65, -0.78, 0.3), (0.76, -0.7, 0.3), (0.95, -1.05, 0.3)]},
    {"k": [(-0.96, 0.34, 0.3), (-0.86, -0.25, 0.35), (-0.76, -0.3, 0.35), (-0.66, -0.42, 0.4), (-0.56, 0.53, 0.4), (-0.35, 0.68, 0.4), (-0.26, 0.12, 0.45), (-0.16, 0.03, 0.45), (-0.06, 0.53, 0.5), (0.05, 0.59, 0.5), (0.15, 0.43, 0.5), (0.25, 0.79, 0.5), (0.35, -0.44, 0.5), (0.45, -0.46, 0.5), (0.55, -0.19, 0.45), (0.65, -0.46, 0.45), (0.75, -1.08, 0.4), (0.85, -1.12, 0.4)]},
    {"o": [(-0.96, 0.2, 0.3), (-0.86, 0.22, 0.3), (-0.76, 0.13, 0.3), (-0.66, -0.06, 0.35), (-0.56, 0.43, 0.35), (-0.46, 0.19, 0.4), (-0.36, 0.82, 0.4), (-0.25, -0.15, 0.4), (-0.15, 0.78, 0.4), (-0.05, 1.16, 0.4), (0.05, 0.78, 0.4), (0.25, 0.61, 0.45), (0.55, -0.21, 0.4), (0.65, -0.49, 0.4)],
     "r": [(-0.96, 0.15, 0.3), (-0.86, 0.34, 0.3), (-0.76, 0.43, 0.3), (-0.66, -0.69, 0.35), (-0.55, 0.04, 0.35), (-0.25, 0.66, 0.35), (-0.15, 0.68, 0.35), (-0.05, 0.78, 0.35), (0.11, 0.51, 0.4), (0.35, -0.66, 0.4), (0.45, -0.04, 0.4), (0.55, -0.18, 0.4), (0.65, -0.52, 0.4), (0.76, -1.13, 0.35), (0.94, -0.84, 0.3)]},
    {"r": [(-0.97, -0.26, 0.2), (-0.87, -0.04, 0.25), (-0.76, 0.04, 0.3), (-0.66, -0.05, 0.3), (-0.57, -0.05, 0.3), (-0.46, -0.07, 0.3), (-0.31, 0.42, 0.3), (-0.15, 0.5, 0.35), (-0.05, 0.93, 0.35), (0.03, 0.83, 0.35), (0.14, -0.1, 0.4), (0.24, 0.51, 0.4), (0.34, 0.15, 0.4), (0.45, 0.51, 0.45), (0.54, -0.2, 0.45), (0.65, 0.25, 0.4), (0.74, -0.49, 0.35), (0.85, -0.88, 0.35), (0.95, -1.12, 0.3)]},
    {"r": [(-0.95, -0.72, 0.3), (-0.86, -0.62, 0.3), (-0.75, -0.31, 0.3), (-0.65, 0.18, 0.3), (-0.55, -0.12, 0.35), (-0.41, 0.96, 0.3), (-0.21, 0.39, 0.35), (0.0, 0.58, 0.4), (0.14, 0.42, 0.4), (0.25, 0.22, 0.4), (0.35, 0.49, 0.4), (0.46, 0.31, 0.4), (0.56, 0.09, 0.4), (0.65, -0.53, 0.35), (0.76, -0.72, 0.35), (0.86, -0.72, 0.3), (0.96, -0.61, 0.3)]},
    {"r": [(-0.96, 0.6, 0.3), (-0.86, -0.49, 0.35), (-0.76, -0.43, 0.35), (-0.66, -0.04, 0.35), (-0.55, 0.19, 0.35), (-0.46, 0.35, 0.35), (-0.21, 0.25, 0.4), (-0.01, 0.37, 0.4), (0.14, -0.15, 0.4), (0.25, 0.37, 0.4), (0.35, 0.22, 0.4), (0.45, 0.45, 0.4), (0.55, 0.25, 0.4), (0.65, 0.46, 0.4), (0.75, -0.38, 0.35), (0.85, -0.66, 0.3), (0.95, -1.11, 0.3)]},
    {"r": [(-0.96, -0.73, 0.3), (-0.86, -0.46, 0.3), (-0.76, -0.78, 0.3), (-0.62, -0.01, 0.35), (-0.42, -0.66, 0.35), (-0.22, 0.4, 0.35), (-0.01, 0.42, 0.35), (0.14, 0.48, 0.35), (0.24, 1.09, 0.35), (0.34, 0.53, 0.35), (0.44, 0.27, 0.4), (0.54, 0.0, 0.4), (0.64, -0.24, 0.4), (0.74, -0.2, 0.4), (0.84, -0.67, 0.35), (0.94, -1.0, 0.3)]},
    # row 4
    {"r": [(-0.94, 0.06, 0.35), (-0.85, -0.71, 0.35), (-0.75, -0.15, 0.3), (-0.6, -0.36, 0.35), (-0.34, 0.21, 0.35), (-0.1, 0.6, 0.3), (0.05, 0.69, 0.35), (0.15, 0.43, 0.4), (0.26, 0.28, 0.4), (0.36, 0.62, 0.35), (0.45, 0.71, 0.35), (0.55, 0.39, 0.35), (0.65, -0.14, 0.35), (0.76, -0.14, 0.3), (0.86, -0.4, 0.3), (0.96, -0.86, 0.25)]},
    {"r": [(-0.94, 0.06, 0.35), (-0.85, -0.25, 0.35), (-0.76, -0.5, 0.35), (-0.65, -0.13, 0.35), (-0.51, -0.88, 0.35), (-0.25, -0.19, 0.3), (0.0, 0.24, 0.3), (0.14, 0.9, 0.3), (0.26, 0.29, 0.3), (0.35, 0.47, 0.3), (0.45, 0.64, 0.3), (0.56, 0.42, 0.3), (0.65, 0.28, 0.3), (0.76, -0.19, 0.3), (0.85, 0.02, 0.3), (0.95, -0.18, 0.3)]},
    {"g": [(-1.0, -0.1, 0.4), (-0.51, 0.72, 0.35), (0.3, 0.88, 0.35), (0.5, 0.86, 0.35), (0.7, -0.18, 0.3)]},
    {"r": [(-0.95, 0.13, 0.35), (-0.85, 0.39, 0.35), (-0.76, -0.46, 0.35), (-0.6, -0.81, 0.35), (-0.41, 0.17, 0.35), (-0.15, 1.1, 0.3), (0.05, 0.51, 0.3), (0.15, 0.66, 0.3), (0.25, 0.45, 0.3), (0.35, 0.39, 0.3), (0.45, 0.55, 0.3), (0.55, -0.06, 0.3), (0.65, -0.07, 0.3), (0.75, 0.06, 0.3), (0.85, -0.9, 0.3), (0.94, -0.19, 0.3)]},
    {"r": [(-0.97, 0.7, 0.3), (-0.87, 0.53, 0.35), (-0.71, -0.66, 0.3), (-0.51, -0.36, 0.3), (-0.31, -0.2, 0.35), (-0.11, 0.7, 0.4), (0.05, 0.31, 0.35), (0.14, 0.12, 0.35), (0.24, 0.1, 0.35), (0.34, -0.19, 0.35), (0.45, 0.14, 0.35), (0.54, 0.39, 0.35), (0.65, 0.2, 0.35), (0.74, -0.46, 0.3), (0.95, -0.48, 0.3)],
     "g": [(-1.0, 0.6, 0.4), (-0.71, 0.01, 0.4), (-0.01, -0.03, 0.4), (0.3, 0.25, 0.35), (0.49, 0.19, 0.35), (0.69, -0.08, 0.35), (0.79, -0.78, 0.35)]},
    {"r": [(-0.96, -0.17, 0.25), (-0.86, 0.5, 0.25), (-0.76, -0.48, 0.35), (-0.56, -0.4, 0.35), (-0.46, -0.76, 0.4), (-0.36, -0.19, 0.35), (-0.2, 0.59, 0.3), (0.0, -0.07, 0.3), (0.15, -0.03, 0.3), (0.25, 0.03, 0.3), (0.35, -0.01, 0.3), (0.46, -0.28, 0.25), (0.55, 0.33, 0.25), (0.66, 0.18, 0.25), (0.75, 0.47, 0.25), (0.85, 0.1, 0.25), (0.96, -0.09, 0.25)]},
    {"g": [(-1.0, -0.01, 0.4), (-0.6, 0.37, 0.4), (0.0, 0.58, 0.35), (0.4, -0.42, 0.35), (0.6, 0.47, 0.35), (0.8, -0.13, 0.4)]},
    {"g": [(-1.0, -0.03, 0.4), (-0.51, 0.22, 0.4), (0.09, -0.38, 0.4), (0.38, 0.0, 0.4), (0.58, 0.45, 0.4), (0.79, -0.13, 0.4)]},
    # row 5
    {"g": [(-0.99, -0.12, 0.35), (-0.9, 0.54, 0.35), (-0.7, -0.27, 0.3), (-0.51, 0.47, 0.4), (-0.4, -0.33, 0.35), (-0.29, -0.33, 0.35), (-0.09, -0.95, 0.3), (0.21, -0.73, 0.35), (0.41, -0.91, 0.35), (0.51, -0.66, 0.3), (0.71, 0.81, 0.35), (0.81, 0.29, 0.3), (0.91, 0.88, 0.3)]},
    {"g": [(-1.0, -0.33, 0.35), (-0.8, -0.25, 0.35), (-0.51, -0.66, 0.4), (-0.31, -0.28, 0.4), (-0.1, -0.9, 0.4), (0.3, -1.4, 0.34), (0.69, -0.09, 0.3), (0.9, 0.43, 0.3)]},
    {"g": [(-1.0, -0.85, 0.35), (-0.7, -0.1, 0.35), (-0.4, 0.31, 0.3), (-0.2, 0.39, 0.3), (0.09, -1.35, 0.36), (0.4, -0.93, 0.3), (0.7, 0.74, 0.35), (0.9, 1.3, 0.36)]},
    {"g": [(-1.0, 0.24, 0.35), (-0.51, 0.27, 0.4), (-0.2, -0.27, 0.35), (0.6, 0.52, 0.35), (0.9, 0.87, 0.35)]},
    {"g": [(-1.0, -0.3, 0.4), (-0.81, -0.12, 0.4), (-0.51, 0.12, 0.4), (-0.31, -0.22, 0.4), (-0.01, 0.28, 0.35), (0.3, -1.3, 0.42), (0.49, -0.79, 0.4), (0.79, 0.96, 0.3)]},
    {"g": [(-1.0, -0.03, 0.4), (-0.5, -0.79, 0.4), (-0.2, 0.31, 0.4), (0.1, -0.01, 0.35), (0.4, -0.65, 0.4), (0.59, 0.43, 0.3)]},
    {"g": [(-1.0, -0.73, 0.35), (-0.41, -0.23, 0.38), (0.0, 0.73, 0.4), (0.29, -0.19, 0.38), (0.6, 0.43, 0.32)]},
    {"g": [(-1.0, 0.08, 0.4), (-0.42, 0.53, 0.4), (0.09, -0.59, 0.35), (0.38, -0.44, 0.4), (0.78, 0.96, 0.25)]},
]

# --- layout (figure fractions) ---
FIG_W, FIG_H = 1569, 1166
LEFT, RIGHT = 48.5 / FIG_W, 1566 / FIG_W
TOP, BOTTOM = 1 - 10 / FIG_H, 1 - 1083 / FIG_H
NCOL, NROW = 8, 5
XLIM = (-1.11, 1.10)
YLIM = (-1.19, 1.21)


def draw_panel(ax, idx, row, col):
    for key in DRAW_ORDER:
        pts = POINTS[idx].get(key)
        if not pts:
            continue
        xs, ys, es = zip(*pts)
        ax.errorbar(xs, ys, yerr=es, fmt="o", ms=6.4, mfc="white", mec=COLORS[key],
                    mew=1.3, ecolor=COLORS[key], elinewidth=1.5, capsize=0, zorder=2)

    solid = pd.DataFrame(SOLID[idx], columns=["cos", "val"])
    dotted = pd.DataFrame(DOTTED[idx], columns=["cos", "val"])
    sns.lineplot(data=dotted, x="cos", y="val", ax=ax, color="black", lw=2.3,
                 linestyle=(0, (1.0, 1.3)), sort=False, estimator=None, zorder=3)
    sns.lineplot(data=solid, x="cos", y="val", ax=ax, color="black", lw=2.6,
                 sort=False, estimator=None, zorder=4)

    ax.set_xlim(*XLIM)
    ax.set_ylim(*YLIM)
    ax.set_xlabel("")
    ax.set_ylabel("")
    for sp in ax.spines.values():
        sp.set_color("black")
        sp.set_linewidth(1.1)
        sp.set_visible(True)

    ax.xaxis.set_major_locator(FixedLocator([-1, 0, 1]))
    ax.yaxis.set_major_locator(FixedLocator([-1, 0, 1]))
    ax.xaxis.set_minor_locator(MultipleLocator(0.25))
    ax.yaxis.set_minor_locator(MultipleLocator(0.25))
    ax.tick_params(which="both", direction="in", top=False, right=False, color="black", width=1.1)
    ax.tick_params(which="major", length=11)
    ax.tick_params(which="minor", length=7)
    ax.tick_params(axis="x", labelsize=23, pad=7)
    ax.tick_params(axis="y", labelsize=23, pad=6)

    if col == 0:
        ax.set_yticklabels(["-1", "0", "1"])
    else:
        ax.set_yticklabels([])
    if row == NROW - 1:
        ax.set_xticklabels(["-1", "0", "1"])
    else:
        ax.set_xticklabels([])

    ax.text(0.145, 0.928, f"W={W_LABELS[idx]}", transform=ax.transAxes,
            fontsize=15.5, ha="left", va="center", zorder=5)


def main():
    sns.set_theme(style="ticks")
    plt.rcParams["font.family"] = ["Liberation Sans", "DejaVu Sans"]

    fig = plt.figure(figsize=(FIG_W / 100, FIG_H / 100), dpi=100)
    pw = (RIGHT - LEFT) / NCOL
    ph = (TOP - BOTTOM) / NROW
    for idx in range(NROW * NCOL):
        row, col = divmod(idx, NCOL)
        ax = fig.add_axes([LEFT + col * pw, BOTTOM + (NROW - 1 - row) * ph, pw, ph])
        draw_panel(ax, idx, row, col)

    # thick outer frame
    fig.add_artist(Rectangle((LEFT, BOTTOM), RIGHT - LEFT, TOP - BOTTOM, transform=fig.transFigure,
                             fill=False, lw=2.2, ec="black", zorder=10))

    # axis title and the clipped plot title at the very top
    fig.text(1566 / FIG_W, 1 - 1142 / FIG_H, "cos θ", ha="right", va="center", fontsize=29)
    fig.text(696 / FIG_W, 1 + 4 / FIG_H, "(γ p  →  K⁺ Λ)", ha="center", va="baseline", fontsize=40)

    fig.savefig("out.png", dpi=100)
    plt.close(fig)


if __name__ == "__main__":
    main()
